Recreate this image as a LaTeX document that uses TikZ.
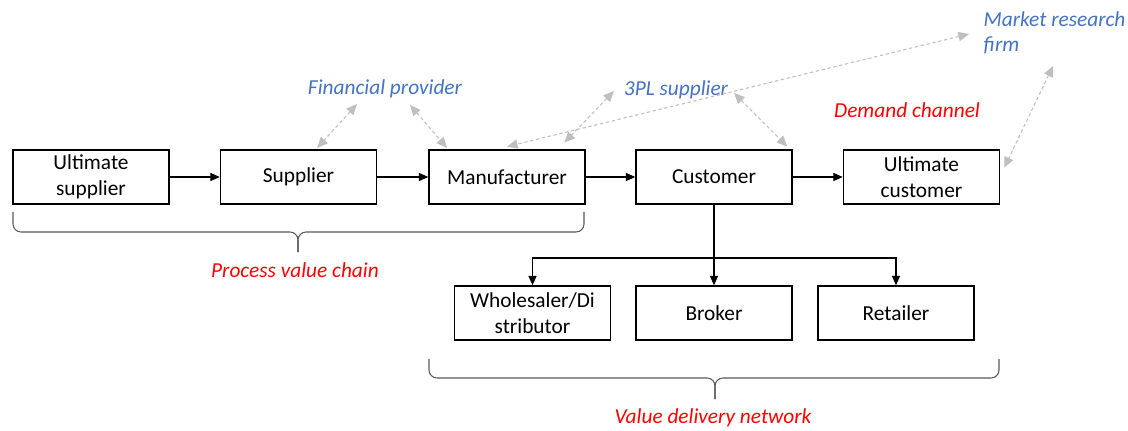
\documentclass[tikz,border=0pt]{standalone}
\usepackage{fontspec}
\setmainfont{Carlito}
\usetikzlibrary{arrows.meta, calc}

\definecolor{labelblue}{HTML}{4472C4}
\definecolor{labelred}{HTML}{FF0000}
\definecolor{linkgray}{HTML}{BFBFBF}
\definecolor{bracegray}{HTML}{595959}

\tikzset{
    stagebox/.style={draw, line width=1.1pt, minimum width=117pt, minimum height=40.5pt,
        inner sep=0pt, align=center, font=\fontsize{16}{19.5}\selectfont},
    flow/.style={line width=0.8pt, -{Triangle[length=7pt, width=6pt]}},
    link/.style={linkgray, line width=0.8pt, dash pattern=on 2.5pt off 2pt,
        {Triangle[length=8pt, width=7pt]}-{Triangle[length=8pt, width=7pt]}},
    bracket/.style={bracegray, line width=0.8pt, rounded corners=6pt},
    partylabel/.style={labelblue, font=\fontsize{16}{19}\selectfont\itshape},
    chainlabel/.style={labelred, font=\fontsize{16}{19.5}\selectfont\itshape}
}

\begin{document}
\begin{tikzpicture}[x=0.75pt, y=-0.75pt]
        \useasboundingbox (0,0) rectangle (1128,431);
        % upper chain
        \node[stagebox] (usup) at (91,177) {Ultimate\\supplier};
        \node[stagebox] (sup) at (298.5,177) {Supplier};
        \node[stagebox] (man) at (507,177) {Manufacturer};
        \node[stagebox] (cus) at (714,177) {Customer};
        \node[stagebox] (ucus) at (921.5,177) {Ultimate\\customer};
        % lower row
        \node[stagebox] (whol) at (532.5,313) {Wholesaler/Di\\stributor};
        \node[stagebox] (brok) at (714,313) {Broker};
        \node[stagebox] (ret) at (896,313) {Retailer};
        % labels
        \node[partylabel] (fin) at (385,89) {Financial provider};
        \node[partylabel] (tpl) at (676,90) {3PL supplier};
        \node[partylabel, anchor=west, align=left] (mrf) at (979,33) {Market research\\firm};
        \node[chainlabel] (dem) at (907,110) {Demand channel};
        \node[chainlabel] (pvc) at (295,270) {Process value chain};
        \node[chainlabel] (vdn) at (713,418) {Value delivery network};

        \draw[flow] (usup) -- (sup);
        \draw[flow] (sup) -- (man);
        \draw[flow] (man) -- (cus);
        \draw[flow] (cus) -- (ucus);
        \coordinate (split) at (714,258);
        \draw[flow] (cus.south) -- (brok.north);
        \draw[flow] (split) -| (whol.north);
        \draw[flow] (split) -| (ret.north);

        % dashed links
        \coordinate (finL) at (357,104);
        \coordinate (finR) at (410,105);
        \coordinate (tplL) at (614,91);
        \coordinate (tplR) at (734,93);
        \coordinate (mrfL) at (969,34);
        \coordinate (mrfB) at (1053,66);
        \draw[link] (finL) -- ([xshift=14pt, yshift=1pt]sup.north);
        \draw[link] (finR) -- ([xshift=-45pt, yshift=1pt]man.north);
        \draw[link] (tplL) -- ([xshift=43pt, yshift=5pt]man.north);
        \draw[link] (mrfL) -- ([xshift=0pt, yshift=2pt]man.north);
        \draw[link] (tplR) -- ([xshift=55pt, yshift=2pt]cus.north);
        \draw[link] (mrfB) -- ([xshift=3pt, yshift=7pt]ucus.east);

        % brackets
        \draw[bracket] (13,212) -- (13,232) -- (298,232) -- (298,252);
        \draw[bracket] (584,212) -- (584,232) -- (298,232) -- (298,252);
        \draw[bracket] (429,359) -- (429,378) -- (715,378) -- (715,399);
        \draw[bracket] (999,359) -- (999,378) -- (715,378) -- (715,399);
    \end{tikzpicture}
\end{document}
